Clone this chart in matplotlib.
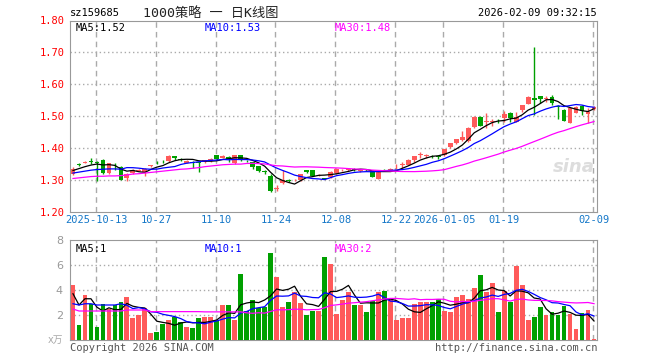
import numpy as np
import pandas as pd
import matplotlib
matplotlib.use('Agg')
from matplotlib import pyplot as plt

# OHLC (88 trading days, 2025-09-29 .. 2026-02-09)
opens = [1.318, 1.349, 1.354, 1.360, 1.357, 1.364, 1.321, 1.348, 1.342, 1.305,
         1.321, 1.330, 1.326, 1.343, 1.358, 1.358, 1.359, 1.376, 1.366, 1.355,
         1.358, 1.356, 1.356, 1.359, 1.378, 1.370, 1.372, 1.352, 1.378, 1.361,
         1.357, 1.344, 1.328, 1.3125, 1.272, 1.290, 1.299, 1.299, 1.300, 1.331,
         1.331, 1.315, 1.306, 1.309, 1.321, 1.331, 1.332, 1.336, 1.327, 1.333,
         1.327, 1.304, 1.333, 1.333, 1.343, 1.346, 1.348, 1.3635, 1.380, 1.376,
         1.377, 1.374, 1.379, 1.403, 1.416, 1.426, 1.421, 1.4656, 1.499, 1.484,
         1.482, 1.489, 1.494, 1.511, 1.483, 1.520, 1.5385, 1.557, 1.5635, 1.555,
         1.561, 1.531, 1.520, 1.480, 1.5115, 1.532, 1.507, 1.522]
highs = [1.340, 1.353, 1.361, 1.368, 1.360, 1.366, 1.355, 1.352, 1.345, 1.322,
         1.334, 1.336, 1.338, 1.348, 1.361, 1.363, 1.378, 1.377, 1.369, 1.362,
         1.360, 1.358, 1.364, 1.368, 1.380, 1.380, 1.375, 1.380, 1.380, 1.364,
         1.358, 1.345, 1.333, 1.320, 1.285, 1.333, 1.303, 1.304, 1.320, 1.333,
         1.333, 1.320, 1.308, 1.328, 1.338, 1.336, 1.338, 1.337, 1.336, 1.336,
         1.329, 1.327, 1.335, 1.337, 1.350, 1.358, 1.365, 1.375, 1.387, 1.383,
         1.380, 1.376, 1.398, 1.417, 1.430, 1.454, 1.465, 1.500, 1.500, 1.511,
         1.490, 1.491, 1.517, 1.513, 1.514, 1.536, 1.562, 1.7177, 1.565, 1.563,
         1.566, 1.535, 1.522, 1.527, 1.532, 1.534, 1.525, 1.532]
lows = [1.315, 1.345, 1.352, 1.350, 1.298, 1.320, 1.318, 1.331, 1.299, 1.298,
        1.320, 1.327, 1.314, 1.341, 1.350, 1.354, 1.357, 1.364, 1.360, 1.352,
        1.338, 1.326, 1.354, 1.357, 1.364, 1.368, 1.357, 1.350, 1.360, 1.356,
        1.336, 1.324, 1.318, 1.264, 1.265, 1.288, 1.294, 1.296, 1.298, 1.322,
        1.312, 1.312, 1.302, 1.305, 1.319, 1.328, 1.330, 1.328, 1.325, 1.327,
        1.311, 1.302, 1.328, 1.330, 1.335, 1.337, 1.347, 1.358, 1.370, 1.368,
        1.368, 1.366, 1.377, 1.401, 1.414, 1.424, 1.419, 1.464, 1.468, 1.4625,
        1.468, 1.480, 1.483, 1.481, 1.482, 1.512, 1.537, 1.504, 1.543, 1.546,
        1.535, 1.4906, 1.4865, 1.478, 1.510, 1.503, 1.480, 1.520]
closes = [1.336, 1.347, 1.358, 1.358, 1.352, 1.322, 1.352, 1.346, 1.300, 1.320,
          1.333, 1.332, 1.336, 1.346, 1.356, 1.357, 1.376, 1.368, 1.365, 1.360,
          1.355, 1.354, 1.362, 1.365, 1.366, 1.375, 1.366, 1.378, 1.3625, 1.359,
          1.342, 1.329, 1.326, 1.2656, 1.274, 1.300, 1.297, 1.301, 1.318, 1.324,
          1.314, 1.317, 1.305, 1.326, 1.336, 1.333, 1.336, 1.331, 1.335, 1.331,
          1.311, 1.325, 1.331, 1.335, 1.345, 1.349, 1.3635, 1.374, 1.382, 1.378,
          1.375, 1.372, 1.397, 1.4156, 1.428, 1.436, 1.4625, 1.499, 1.470, 1.4854,
          1.484, 1.487, 1.507, 1.496, 1.497, 1.535, 1.561, 1.551, 1.554, 1.557,
          1.540, 1.528, 1.4865, 1.525, 1.530, 1.5177, 1.5146, 1.530]
rising = [1, 0, 1, 0, 0, 0, 1, 0, 0, 1, 1, 1, 1, 1, 0, 0, 1, 0, 0, 1,
          0, 0, 1, 1, 0, 1, 0, 1, 0, 0, 0, 0, 0, 0, 1, 1, 0, 1, 1, 0,
          0, 1, 0, 1, 1, 1, 1, 0, 1, 0, 0, 1, 0, 1, 1, 1, 1, 1, 1, 1,
          0, 0, 1, 1, 1, 1, 1, 1, 0, 1, 1, 0, 1, 0, 1, 1, 1, 0, 0, 1,
          0, 0, 0, 1, 1, 0, 1, 1]
# volume, 万手
volumes = [4.4, 1.2, 3.6, 2.88, 1.04, 2.88, 2.48, 2.8, 3.04, 3.44,
           1.76, 2.0, 2.56, 0.56, 0.64, 1.28, 1.6, 1.84, 1.44, 1.04,
           0.96, 1.76, 1.84, 1.84, 1.6, 2.8, 2.8, 1.6, 5.28, 2.32,
           3.2, 2.56, 2.64, 6.96, 5.04, 2.64, 3.04, 3.84, 2.96, 2.0,
           2.32, 2.32, 6.64, 6.08, 2.08, 3.2, 3.84, 2.8, 2.8, 2.24,
           3.12, 3.84, 3.92, 3.28, 1.6, 1.76, 1.76, 2.88, 3.04, 3.04,
           3.04, 3.28, 2.32, 2.24, 3.44, 3.6, 3.28, 4.16, 5.2, 3.84,
           4.56, 2.24, 3.92, 3.04, 5.92, 4.4, 1.6, 1.84, 2.64, 2.0,
           2.24, 2.0, 2.72, 2.08, 0.88, 2.16, 2.4, 0.08]

# moving averages at the left edge (history before the window)
ma5_head = [1.330, 1.336, 1.342, 1.347]
ma10_head = [1.322, 1.325, 1.328, 1.331, 1.333, 1.334, 1.335, 1.335, 1.334]
ma30_head = [1.305, 1.307, 1.309, 1.311, 1.312, 1.312, 1.313, 1.313, 1.314, 1.316,
             1.319, 1.320, 1.322, 1.324, 1.326, 1.328, 1.330, 1.332, 1.334, 1.335,
             1.337, 1.339, 1.342, 1.344, 1.346, 1.348, 1.349, 1.350, 1.350]
vma5_head = [3.7, 2.8, 3.3, 3.3]
vma10_head = [2.9, 2.8, 2.9, 2.9, 2.8, 2.8, 2.8, 2.8, 2.9]
vma30_head = [2.48, 2.32, 2.32, 2.32, 2.32, 2.32, 2.32, 2.32, 2.32, 2.4,
              2.4, 2.4, 2.4, 2.27, 2.27, 2.27, 2.27, 2.27, 2.27, 2.27,
              2.27, 2.27, 2.25, 2.25, 2.25, 2.25, 2.25, 2.25, 2.25]

tick_idx = [4, 14, 24, 34, 44, 54, 62, 72, 87]
tick_labels = ['2025-10-13', '10-27', '11-10', '11-24', '12-08', '12-22',
               '2026-01-05', '01-19', '02-09']


def moving_avg(vals, n, head):
    ma = pd.Series(vals).rolling(n).mean().to_numpy()
    ma[:len(head)] = head
    return ma


RED = '#FF5A5A'
GREEN = '#00A000'
GRID = '#AAAAAA'
MONO = 'DejaVu Sans Mono'

x = np.arange(len(closes))
cols = [RED if r else GREEN for r in rising]

fig = plt.figure(figsize=(6.6, 3.6), dpi=100)
ax = fig.add_axes([70/660, 1-212/360, 527/660, 191.5/360])
axv = fig.add_axes([70/660, 20/360, 527/660, 100/360])

# price panel
for i in x:
    ax.vlines(i, lows[i], highs[i], color=cols[i], lw=1, zorder=3)
    lo = min(opens[i], closes[i])
    h = max(abs(closes[i] - opens[i]), 0.0015)
    ax.bar(i, h, bottom=lo - (0.00075 if h == 0.0015 else 0), width=0.8,
           color=cols[i], lw=0, zorder=3)

ax.plot(x, moving_avg(closes, 5, ma5_head), color='black', lw=0.9, zorder=4)
ax.plot(x, moving_avg(closes, 10, ma10_head), color='#0000FF', lw=0.9, zorder=4)
ax.plot(x, moving_avg(closes, 30, ma30_head), color='#FF00FF', lw=0.9, zorder=4)

ax.set_xlim(-0.5, len(x) - 0.5)
ax.set_ylim(1.20, 1.80)
ax.set_yticks(np.arange(1.2, 1.81, 0.1))
ax.set_yticklabels(['%.2f' % v for v in np.arange(1.2, 1.81, 0.1)],
                   color='red', fontsize=7.5, family=MONO)
ax.set_xticks(tick_idx)
ax.set_xticklabels(tick_labels, color='#1477C8', fontsize=7.5, family=MONO)
ax.tick_params(length=0, pad=2)
ax.tick_params(axis='y', pad=4)
for v in np.arange(1.3, 1.75, 0.1):
    ax.axhline(v, color=GRID, lw=1, ls=(0, (1, 2)), zorder=1)
for t in tick_idx:
    ax.axvline(t - 0.2, color=GRID, lw=1, ls=(0, (4, 3)), zorder=1)
for s in ax.spines.values():
    s.set_color('#999999')

ax.text(0.01, 0.985, 'MA5:1.52', transform=ax.transAxes, va='top',
        fontsize=7.5, family=MONO, color='black')
ax.text(0.256, 0.985, 'MA10:1.53', transform=ax.transAxes, va='top',
        fontsize=7.5, family=MONO, color='#0000FF')
ax.text(0.502, 0.985, 'MA30:1.48', transform=ax.transAxes, va='top',
        fontsize=7.5, family=MONO, color='#FF00FF')
ax.text(0.995, 0.235, 'sina', transform=ax.transAxes, ha='right', va='center',
        fontsize=13, style='italic', weight='bold', color='#DDDDDD', zorder=0)

# volume panel
axv.bar(x, volumes, width=0.8, color=cols, lw=0, zorder=3)
axv.plot(x, moving_avg(volumes, 5, vma5_head), color='black', lw=0.9, zorder=4)
axv.plot(x, moving_avg(volumes, 10, vma10_head), color='#0000FF', lw=0.9, zorder=4)
axv.plot(x, moving_avg(volumes, 30, vma30_head), color='#FF00FF', lw=0.9, zorder=4)
axv.set_xlim(-0.5, len(x) - 0.5)
axv.set_ylim(0, 8)
axv.set_yticks([2, 4, 6, 8])
axv.set_yticklabels(['2', '4', '6', '8'], color='#999999', fontsize=8)
axv.set_xticks([])
axv.tick_params(length=0, pad=5)
for v in [2, 4, 6]:
    axv.axhline(v, color=GRID, lw=1, ls=(0, (1, 2)), zorder=1)
for t in tick_idx:
    axv.axvline(t - 0.2, color=GRID, lw=1, ls=(0, (4, 3)), zorder=1)
for s in axv.spines.values():
    s.set_color('#999999')
axv.text(0.01, 0.96, 'MA5:1', transform=axv.transAxes, va='top',
         fontsize=7.5, family=MONO, color='black')
axv.text(0.256, 0.96, 'MA10:1', transform=axv.transAxes, va='top',
         fontsize=7.5, family=MONO, color='#0000FF')
axv.text(0.502, 0.96, 'MA30:2', transform=axv.transAxes, va='top',
         fontsize=7.5, family=MONO, color='#FF00FF')

# header / footer
fig.text(70/660, 1-13/360, 'sz159685', va='center', fontsize=7.5, family=MONO)
fig.text(211/660, 1-13/360, '1000策略 一 日K线图', ha='center', va='center',
         fontsize=9.5, family=[MONO, 'Noto Sans CJK SC'], color='#222222')
fig.text(597/660, 1-13/360, '2026-02-09 09:32:15', ha='right', va='center',
         fontsize=7.5, family=MONO)
fig.text(70/660, 1-348/360, 'Copyright 2026 SINA.COM', va='center',
         fontsize=7.5, family=MONO, color='#555555')
fig.text(597/660, 1-348/360, 'http://finance.sina.com.cn', ha='right', va='center',
         fontsize=7.5, family=MONO, color='#555555')
fig.text(63/660, 1-340/360, 'x万', ha='right', va='center', fontsize=7,
         family=['DejaVu Sans', 'Noto Sans CJK SC'], color='#AAAAAA')

plt.savefig('out.png', dpi=100, facecolor='white')
